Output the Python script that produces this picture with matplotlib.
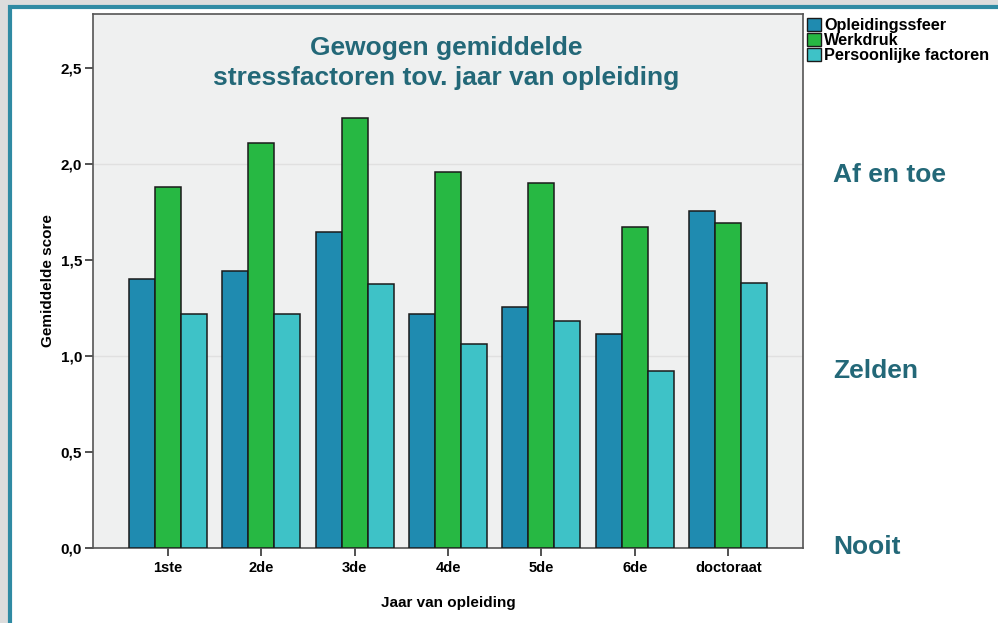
import matplotlib
matplotlib.use('Agg')
import matplotlib.pyplot as plt
import numpy as np
from matplotlib.patches import Rectangle, Patch

plt.rcParams['font.family'] = ['Liberation Sans', 'DejaVu Sans']

# data
jaren = ['1ste', '2de', '3de', '4de', '5de', '6de', 'doctoraat']
opleidingssfeer = [1.40, 1.44, 1.645, 1.22, 1.255, 1.115, 1.755]
werkdruk = [1.88, 2.11, 2.24, 1.96, 1.90, 1.67, 1.69]
persoonlijk = [1.22, 1.22, 1.375, 1.06, 1.18, 0.92, 1.38]
reeksen = ['Opleidingssfeer', 'Werkdruk', 'Persoonlijke factoren']
yticks = [0.0, 0.5, 1.0, 1.5, 2.0, 2.5]

kleuren = ['#1f8bb0', '#27b843', '#3ec2c7']
teal = '#236878'

fig = plt.figure(figsize=(9.98, 6.23), dpi=100)
fig.patch.set_facecolor('white')

# outer frame with teal border (runs off right and bottom)
W, H = 998, 623
fig.patches.append(Rectangle((0, 0), 8 / W, 1, transform=fig.transFigure,
                             facecolor='#dcdcdc', edgecolor='none', zorder=0))
fig.patches.append(Rectangle((0, 1 - 5 / H), 1, 5 / H, transform=fig.transFigure,
                             facecolor='#dcdcdc', edgecolor='none', zorder=0))
fig.patches.append(Rectangle((10 / W, -0.1), 1.2, 1 - 7 / H + 0.1,
                             transform=fig.transFigure, facecolor='white',
                             edgecolor='#2f8aa3', linewidth=3, zorder=1))

ax = fig.add_axes([93 / W, 75 / H, 710 / W, 534 / H])
ax.set_facecolor('#eff0f0')
ax.set_zorder(2)

x = np.arange(len(jaren))
b = 0.278
for i, (vals, kl, naam) in enumerate(zip([opleidingssfeer, werkdruk, persoonlijk], kleuren, reeksen)):
    ax.bar(x + (i - 1) * b, vals, width=b, color=kl, edgecolor='#1a1a1a',
           linewidth=1.1, label=naam, zorder=3)

ax.set_xlim(-0.8, 6.8)
ax.set_ylim(0, 2.78)
ax.set_yticks(yticks)
ax.set_yticklabels([f'{v:.1f}'.replace('.', ',') for v in yticks],
                   fontsize=11, fontweight='bold')
ax.set_xticks(x)
ax.set_xticklabels(jaren, fontsize=10.5, fontweight='bold')
ax.tick_params(axis='both', direction='out', length=6, width=1.2, color='#333333')
ax.tick_params(axis='y', pad=2)

for y in [1.0, 2.0]:
    ax.axhline(y, color='#e0e0e0', linewidth=1.0, zorder=1)

for s in ax.spines.values():
    s.set_color('#555555')
    s.set_linewidth(1.2)

ax.set_ylabel('Gemiddelde score', fontsize=11, fontweight='bold', labelpad=4)
ax.set_xlabel('Jaar van opleiding', fontsize=11, fontweight='bold', labelpad=15)

ax.text(0.497, 0.908, 'Gewogen gemiddelde\nstressfactoren tov. jaar van opleiding',
        transform=ax.transAxes, ha='center', va='center', fontsize=19,
        fontweight='bold', color=teal, linespacing=1.28)

fig.text(833 / W, 1 - 175 / H, 'Af en toe', ha='left', va='center',
         fontsize=19, fontweight='bold', color=teal)
fig.text(833 / W, 1 - 371 / H, 'Zelden', ha='left', va='center',
         fontsize=19, fontweight='bold', color=teal)
fig.text(833 / W, 1 - 547 / H, 'Nooit', ha='left', va='center',
         fontsize=19, fontweight='bold', color=teal)

handles = [Patch(facecolor=k, edgecolor='#1a1a1a', linewidth=1) for k in kleuren]
ax.legend(handles, reeksen, loc='upper left', bbox_to_anchor=(1.0, 1.0),
          frameon=False, prop={'weight': 'bold', 'size': 11.7},
          handlelength=0.85, handleheight=0.85, handletextpad=0.2,
          labelspacing=0.0, borderaxespad=0.1, borderpad=0.15)

fig.savefig('out.png', dpi=100)
